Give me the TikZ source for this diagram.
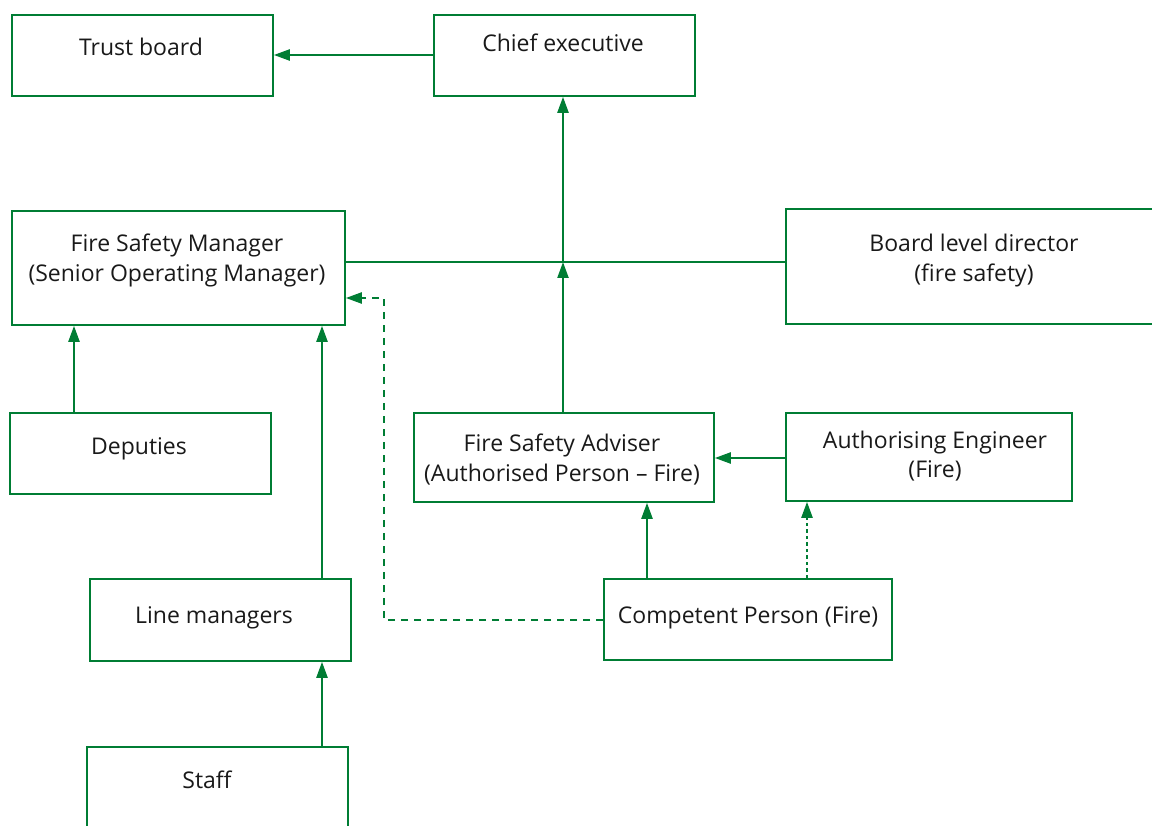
\documentclass[tikz,border=0pt]{standalone}
\usepackage{fontspec}
\setmainfont{Open Sans}
\usetikzlibrary{arrows.meta}
\definecolor{fgreen}{RGB}{0,125,52}
\begin{document}
\begin{tikzpicture}[x=1pt,y=-1pt,
  box/.style={draw=fgreen,line width=1.8pt,fill=none,inner sep=0pt,anchor=north west},
  txt/.style={font=\fontsize{23}{30}\selectfont,text=black!90,inner sep=0pt,anchor=base},
  conn/.style={draw=fgreen,line width=2.3pt},
  arr/.style={conn,-{Triangle[length=16pt,width=11pt]}},
  dsh/.style={arr,dash pattern=on 7pt off 6pt},
  dtt/.style={arr,dash pattern=on 3.5pt off 3pt}]
\useasboundingbox (0,0) rectangle (1152,826);
% boxes
\node[box,minimum width=261pt,minimum height=81pt] (trust) at (11,14) {};
\node[box,minimum width=261pt,minimum height=81pt] (chief) at (433,14) {};
\node[box,minimum width=333pt,minimum height=114pt] (fsm) at (11,210) {};
\node[box,minimum width=380pt,minimum height=115pt] (bld) at (785,208) {};
\node[box,minimum width=261pt,minimum height=81pt] (dep) at (9,412) {};
\node[box,minimum width=300pt,minimum height=89pt] (fsa) at (413,412) {};
\node[box,minimum width=286pt,minimum height=88pt] (ae) at (785,412) {};
\node[box,minimum width=261pt,minimum height=82pt] (lm) at (89,578) {};
\node[box,minimum width=288pt,minimum height=81pt] (cp) at (603,578) {};
\node[box,minimum width=261pt,minimum height=90pt] (staff) at (86,746) {};
% texts (placed by baseline)
\node[txt] (trustt) at (141,56) {Trust board};
\node[txt] (chieft) at (563,52) {Chief executive};
\node[txt] (fsmt1) at (177,252) {Fire Safety Manager};
\node[txt] (fsmt2) at (177,282) {(Senior Operating Manager)};
\node[txt] (bldt1) at (974,252) {Board level director};
\node[txt] (bldt2) at (974,282) {(fire safety)};
\node[txt] (dept) at (139,454) {Deputies};
\node[txt] (fsat1) at (562,451) {Fire Safety Adviser};
\node[txt] (fsat2) at (562,481) {(Authorised Person -- Fire)};
\node[txt] (aet1) at (935,448) {Authorising Engineer};
\node[txt] (aet2) at (935,477) {(Fire)};
\node[txt] (lmt) at (214,623) {Line managers};
\node[txt] (cpt) at (748,623) {Competent Person (Fire)};
\node[txt] (stafft) at (207,788) {Staff};
% junction and bends
\coordinate (j) at (563,262);
\coordinate (dc1) at (384,620);
\coordinate (dc2) at (384,298);
% connectors
\draw[arr] (chief.west |- 0,55) -- (trust.east |- 0,55);
\draw[conn] (fsm.east |- j) -- (bld.west |- j);
\draw[arr] (j) -- (chief.south -| j);
\draw[arr] (fsa.north -| j) -- (j);
\draw[arr] (dep.north -| 74,0) -- (fsm.south -| 74,0);
\draw[arr] (lm.north -| 322,0) -- (fsm.south -| 322,0);
\draw[arr] (staff.north -| 322,0) -- (lm.south -| 322,0);
\draw[arr] (ae.west |- 0,458) -- (fsa.east |- 0,458);
\draw[arr] (cp.north -| 647,0) -- (fsa.south -| 647,0);
\draw[dtt] (cp.north -| 807,0) -- (ae.south -| 807,0);
\draw[dsh] (cp.west |- dc1) -- (dc1) -- (dc2) -- (fsm.east |- dc2);
\end{tikzpicture}
\end{document}
